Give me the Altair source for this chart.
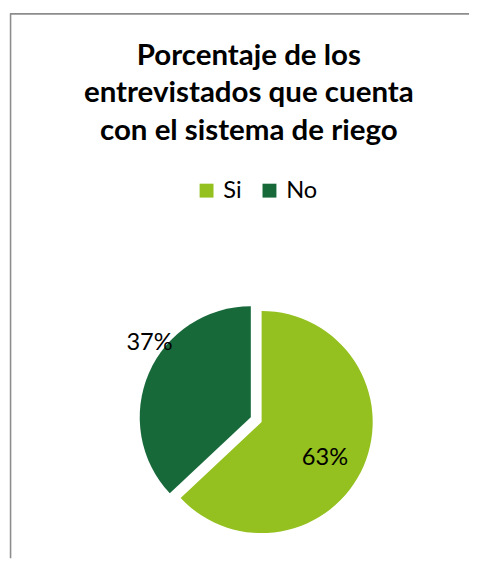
import altair as alt
import pandas as pd

# ---- data ----
categories = ["Si", "No"]
values = [63, 37]
title_lines = ["Porcentaje de los", "entrevistados que cuenta", "con el sistema de riego"]

# ---- style ----
colors = ["#94C11F", "#17693A"]
label_radius = [74, 128]        # px from slice centre
label_shift_deg = [6, 13]       # angular nudge of label (best-fit look)
W, H = 470, 555
CX, CY = 252.5, 414
R = 113
EXPLODE = 6
FONT = "Lato"

df = pd.DataFrame({
    "cat": categories,
    "value": values,
    "order": list(range(len(categories))),
    "lr": label_radius,
    "shift": label_shift_deg,
})

base = (
    alt.Chart(df)
    .transform_joinaggregate(total="sum(value)")
    .transform_window(cum="sum(value)", sort=[alt.SortField("order")], frame=[None, 0])
    .transform_calculate(
        t0="(datum.cum - datum.value) / datum.total * 2 * PI",
        t1="datum.cum / datum.total * 2 * PI",
    )
    .transform_calculate(mid="(datum.t0 + datum.t1) / 2")
    .transform_calculate(
        cx=f"{CX} + {EXPLODE} * sin(datum.mid)",
        cy=f"{CY} - {EXPLODE} * cos(datum.mid)",
        la="(datum.t0 + datum.t1) / 2 + datum.shift * PI / 180",
        label="format(datum.value / datum.total, '.0%')",
    )
    .transform_calculate(
        lx="datum.cx + datum.lr * sin(datum.la)",
        ly="datum.cy - datum.lr * cos(datum.la)",
    )
)

arcs = base.mark_arc(radius=R).encode(
    theta=alt.Theta("t0:Q", scale=None, stack=False),
    theta2=alt.Theta2("t1:Q"),
    x=alt.X("cx:Q", scale=None, axis=None),
    y=alt.Y("cy:Q", scale=None, axis=None),
    color=alt.Color(
        "cat:N",
        scale=alt.Scale(domain=categories, range=colors),
        sort=categories,
        legend=alt.Legend(
            title=None,
            orient="none",
            direction="horizontal",
            legendX=190,
            legendY=169,
            symbolType="square",
            symbolSize=200,
            symbolStrokeWidth=0,
            symbolOpacity=1,
            labelFont=FONT,
            labelFontSize=24,
            labelColor="#000000",
            columnPadding=16,
            labelOffset=5,
        ),
    ),
)

labels = base.mark_text(font=FONT, fontSize=24, color="#000000", baseline="middle", align="center").encode(
    x=alt.X("lx:Q", scale=None, axis=None),
    y=alt.Y("ly:Q", scale=None, axis=None),
    text="label:N",
)

one = pd.DataFrame({"k": [0]})
title = alt.Chart(one).mark_text(
    text=title_lines,
    font=FONT,
    fontSize=30,
    fontWeight="bold",
    color="#000000",
    align="center",
    baseline="alphabetic",
    lineHeight=38.5,
).encode(x=alt.value(245), y=alt.value(52.7))

top_line = alt.Chart(one).mark_rule(color="#8C8C8C", strokeWidth=1.6).encode(
    x=alt.value(2), x2=alt.value(W - 1), y=alt.value(1.2)
)
left_line = alt.Chart(one).mark_rule(color="#8C8C8C", strokeWidth=1.6).encode(
    x=alt.value(2.6), y=alt.value(1), y2=alt.value(H)
)

chart = (
    alt.layer(top_line, left_line, title, arcs, labels)
    .properties(width=W, height=H, padding=0, autosize=alt.AutoSizeParams(type="none"), background="white")
    .configure_view(strokeWidth=0)
)

chart.save("out.html", embed_options={"renderer": "svg", "actions": False})
